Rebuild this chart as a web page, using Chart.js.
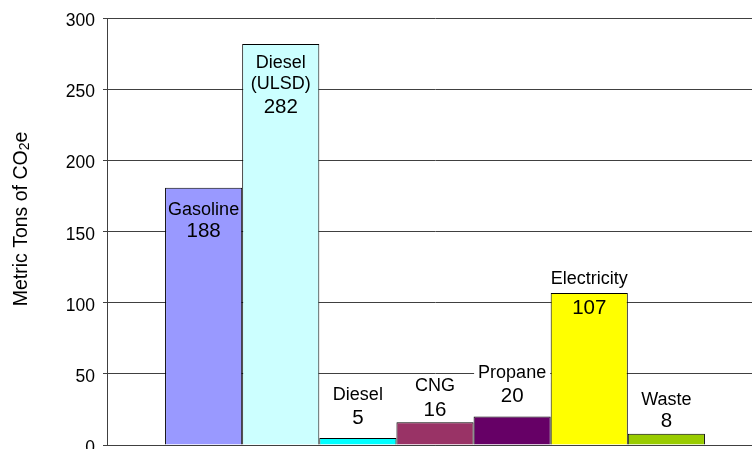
<!DOCTYPE html>
<html>
<head>
<meta charset="utf-8">
<script src="https://cdn.jsdelivr.net/npm/chart.js@4.4.1/dist/chart.umd.min.js"></script>
<style>
  html, body { margin: 0; padding: 0; background: #fff; overflow: hidden; }
  #wrap { position: absolute; left: 0; top: 0; width: 775px; height: 465px; }
</style>
</head>
<body>
<div id="wrap"><canvas id="co2Chart"></canvas></div>
<script>
// Données
const categories = ['Gasoline', 'Diesel (ULSD)', 'Diesel', 'CNG', 'Propane', 'Electricity', 'Waste'];
const labelLines = [['Gasoline'], ['Diesel', '(ULSD)'], ['Diesel'], ['CNG'], ['Propane'], ['Electricity'], ['Waste']];
const emissions = [181, 282, 5, 16, 20, 107, 8];
const shownValues = ['188', '282', '5', '16', '20', '107', '8'];
const yTicks = [0, 50, 100, 150, 200, 250, 300];

const barColors = ['#9999FF', '#CCFFFF', '#00FFFF', '#993366', '#660066', '#FFFF00', '#99CC00'];
// décalage vertical de chaque ligne de texte par rapport au haut de la barre (px)
const labelOffsets = [
    [22, 44],
    [19, 40, 63],
    [-43, -20],
    [-36, -12],
    [-44, -20],
    [-14, 15],
    [-34, -12]
];
const FONT = '"Liberation Sans", Arial, sans-serif';

// Plugin : étiquettes des barres
const barLabels = {
    id: 'barLabels',
    afterDatasetsDraw(chart) {
        const ctx = chart.ctx;
        ctx.save();
        ctx.textAlign = 'center';
        ctx.textBaseline = 'middle';
        chart.data.datasets.forEach((ds, i) => {
            const bar = chart.getDatasetMeta(i).data[0];
            const lines = labelLines[i].concat([shownValues[i]]);
            lines.forEach((txt, j) => {
                const isValue = j === lines.length - 1;
                ctx.font = (isValue ? '20.5px ' : '18px ') + FONT;
                const y = bar.y + labelOffsets[i][j];
                if (i === 4 && !isValue) {
                    // fond blanc derrière "Propane"
                    const w = ctx.measureText(txt).width;
                    ctx.fillStyle = '#fff';
                    ctx.fillRect(bar.x - w / 2 - 4, y - 10, w + 8, 20);
                }
                ctx.fillStyle = '#000';
                ctx.fillText(txt, bar.x, y);
            });
        });
        ctx.restore();
    }
};

// Plugin : titre de l'axe Y avec indice
const yTitle = {
    id: 'yTitle',
    afterDraw(chart) {
        const ctx = chart.ctx;
        ctx.save();
        ctx.translate(22, 219);
        ctx.rotate(-Math.PI / 2);
        ctx.textBaseline = 'middle';
        ctx.fillStyle = '#000';
        const big = '19.5px ' + FONT, small = '14px ' + FONT;
        ctx.font = big;
        const w1 = ctx.measureText('Metric Tons of CO').width;
        const w3 = ctx.measureText('e').width;
        ctx.font = small;
        const w2 = ctx.measureText('2').width;
        let x = -(w1 + w2 + w3) / 2;
        ctx.font = big;
        ctx.textAlign = 'left';
        ctx.fillText('Metric Tons of CO', x, 0);
        x += w1;
        ctx.font = small;
        ctx.fillText('2', x, 3);
        x += w2;
        ctx.font = big;
        ctx.fillText('e', x, 0);
        ctx.restore();
    }
};

const datasets = categories.map((name, i) => ({
    label: name,
    data: [emissions[i]],
    backgroundColor: barColors[i],
    borderColor: '#000',
    borderWidth: 1,
    categoryPercentage: 0.823,
    barPercentage: 1
}));

new Chart(document.getElementById('co2Chart').getContext('2d'), {
    type: 'bar',
    data: { labels: [''], datasets: datasets },
    options: {
        responsive: true,
        maintainAspectRatio: false,
        animation: false,
        layout: { padding: { top: 18, right: 12, left: 0, bottom: 0 } },
        plugins: {
            legend: { display: false },
            tooltip: { enabled: false }
        },
        scales: {
            x: {
                ticks: { display: false },
                grid: { display: false },
                border: { display: true, color: '#404040', width: 1 },
                afterFit(scale) { scale.height = 20; }
            },
            y: {
                min: 0,
                max: 300,
                afterBuildTicks(scale) { scale.ticks = yTicks.map(v => ({ value: v })); },
                ticks: {
                    color: '#000',
                    padding: 8,
                    labelOffset: 3,
                    font: { family: FONT, size: 17.5 }
                },
                grid: { color: '#404040', tickLength: 4, drawTicks: true },
                border: { display: true, color: '#404040', width: 1 },
                afterFit(scale) { scale.width = 107; }
            }
        }
    },
    plugins: [barLabels, yTitle]
});
</script>
</body>
</html>
